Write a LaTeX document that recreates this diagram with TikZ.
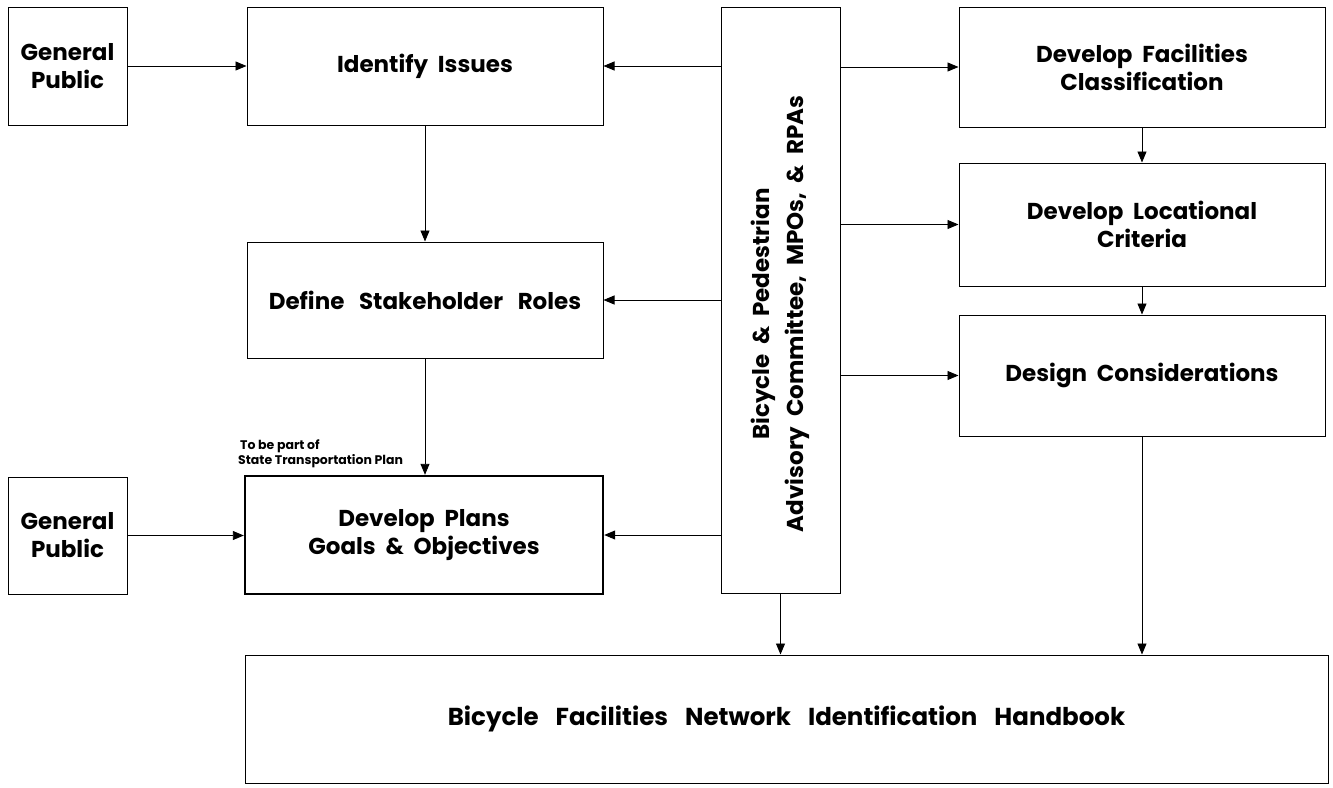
\documentclass[tikz,border=0pt]{standalone}
\usepackage{fontspec}
\setmainfont{Poppins}
\usetikzlibrary{arrows.meta}
\begin{document}
\begin{tikzpicture}[x=1pt,y=-1pt,
  box/.style={draw, line width=1pt, inner sep=0pt, align=center, font=\bfseries\fontsize{23}{28}\selectfont},
  arr/.style={-{Triangle[length=11pt,width=9pt]}, line width=0.9pt}]
\useasboundingbox (0,0) rectangle (1333,787);
\node[box, minimum width=119pt, minimum height=118pt] (gp1) at (67.5,66) {General\\Public};
\node[box, minimum width=356pt, minimum height=118pt] (ii) at (425,66) {Identify\ \ Issues};
\node[box, minimum width=119pt, minimum height=586pt] (adv) at (780.5,300) {};
\node[rotate=90, align=center, font=\bfseries\fontsize{23}{34}\selectfont] (advt) at (780.5,314) {Bicycle\ \ \&\ \ Pedestrian\\Advisory\ \ Committee,\ \ MPOs,\ \ \&\ \ RPAs};
\node[box, minimum width=366pt, minimum height=120pt] (dfc) at (1142,67) {Develop\ \ Facilities\\Classification};
\node[box, minimum width=366pt, minimum height=123pt] (dlc) at (1142,224.5) {Develop\ \ Locational\\Criteria};
\node[box, minimum width=366pt, minimum height=121pt] (dc) at (1142,375.5) {Design\ \ Considerations};
\node[box, minimum width=356pt, minimum height=116pt] (dsr) at (425,300) {Define\ \ \ Stakeholder\ \ \ Roles};
\node[box, line width=2.4pt, minimum width=358pt, minimum height=118pt] (dp) at (424,535) {Develop\ \ Plans\\Goals\ \ \&\ \ Objectives};
\node[box, minimum width=119pt, minimum height=117pt] (gp2) at (67.5,535.5) {General\\Public};
\node[box, minimum width=1083pt, minimum height=128pt, font=\bfseries\fontsize{24.5}{29}\selectfont] (hb) at (786.5,719) {Bicycle\hspace{17pt}Facilities\hspace{17pt}Network\hspace{17pt}Identification\hspace{17pt}Handbook};
\node[align=left, anchor=south west, inner sep=0pt, font=\bfseries\fontsize{12.5}{15}\selectfont] (lbl) at (238,468) {\hspace*{2pt}To\ be\ part\ of\\State\ Transportation\ Plan};
\draw[arr] (gp1.east) -- (ii.west);
\draw[arr] (adv.west |- ii.east) -- (ii.east);
\draw[arr] (adv.east |- dfc.west) -- (dfc.west);
\draw[arr] (ii.south) -- (dsr.north);
\draw[arr] (adv.east |- dlc.west) -- (dlc.west);
\draw[arr] (adv.west |- dsr.east) -- (dsr.east);
\draw[arr] (dsr.south) -- (dsr.south |- dp.north);
\draw[arr] (adv.east |- dc.west) -- (dc.west);
\draw[arr] (gp2.east) -- (gp2.east -| dp.west);
\draw[arr] (adv.west |- dp.east) -- (dp.east);
\draw[arr] (adv.south) -- (adv.south |- hb.north);
\draw[arr] (dfc.south) -- (dlc.north);
\draw[arr] (dlc.south) -- (dc.north);
\draw[arr] (dc.south) -- (dc.south |- hb.north);
\end{tikzpicture}
\end{document}
